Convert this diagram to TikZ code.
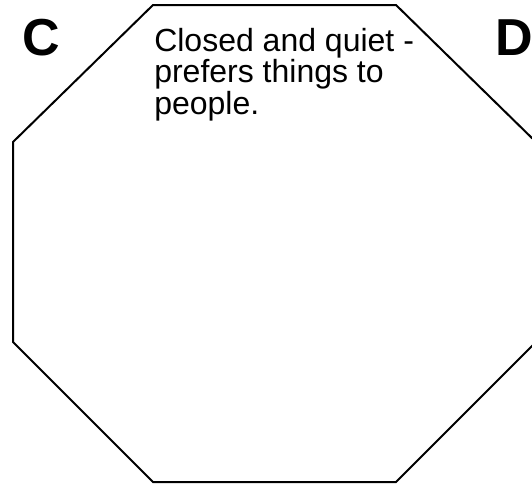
\documentclass[tikz,border=0pt]{standalone}
\usepackage{fontspec}
\setmainfont{Liberation Sans}

\begin{document}
\begin{tikzpicture}[
  x=0.75pt, y=-0.75pt,
  corner/.style={font=\fontsize{39}{39}\selectfont\bfseries, inner sep=0pt, anchor=base west},
  note/.style={font=\fontsize{24}{23.6}\selectfont, align=left, inner sep=0pt, anchor=north west},
  edge/.style={line width=1.5pt, line join=miter}
]
\useasboundingbox (0,0) rectangle (532,483);
% stop-sign outline, right side runs off the page
\draw[edge] (153,5) -- (396,5) -- (536,142) -- (536,342) -- (396,482) -- (153,482) -- (13,342) -- (13,142) -- cycle;
\node[corner] (labelC) at (22,55) {C};
\node[corner] (labelD) at (495,55) {D};
\node[note] (desc) at (154,28) {Closed and quiet -\\prefers things to\\people.};
\end{tikzpicture}
\end{document}
